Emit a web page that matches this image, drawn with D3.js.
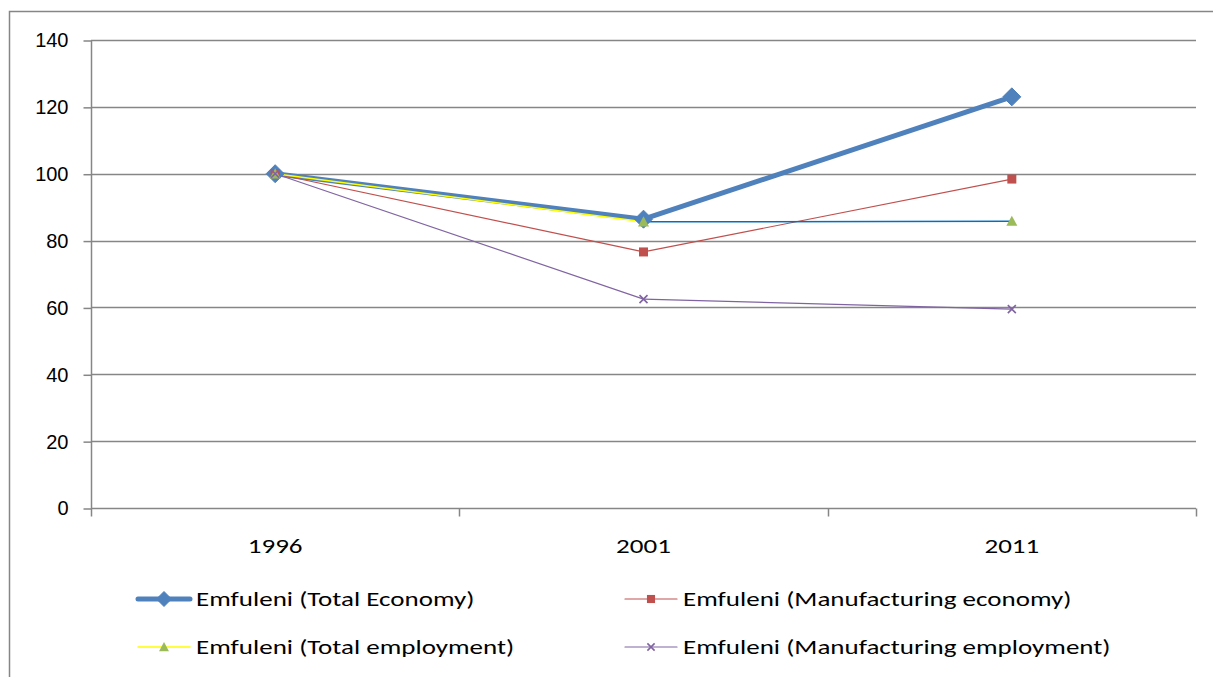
<!DOCTYPE html>
<html>
<head>
<meta charset="utf-8">
<script src="https://cdn.jsdelivr.net/npm/d3@7"></script>
<style>
  html, body { margin: 0; padding: 0; background: #fff; }
  svg { display: block; font-family: Calibri, Carlito, "Liberation Sans", Arial, sans-serif; }
</style>
</head>
<body>
<svg id="chart" width="1213" height="677"></svg>
<script>
// Index values (1996 = 100)
const years = ["1996", "2001", "2011"];
const totalEconomy = [100, 86.4, 123];
const manufacturingEconomy = [100, 76.6, 98.4];
const totalEmployment = [100, 85.6, 85.8];
const manufacturingEmployment = [100, 62.5, 59.5];
const yTicks = [0, 20, 40, 60, 80, 100, 120, 140];

const series = [
  { name: "Emfuleni (Total Economy)", values: totalEconomy },
  { name: "Emfuleni (Manufacturing economy)", values: manufacturingEconomy },
  { name: "Emfuleni (Total employment)", values: totalEmployment },
  { name: "Emfuleni (Manufacturing employment)", values: manufacturingEmployment }
];

// Drawing styles, per series (segment colours let one segment differ)
const styles = [
  { segColors: ["#4F81BD", "#4F81BD"], width: 5, marker: "diamond", mColor: "#4F81BD", mSize: 18 },
  { segColors: ["#C0504D", "#C0504D"], width: 1.2, marker: "square", mColor: "#C0504D", mSize: 9 },
  { segColors: ["#FFFF00", "#0070C0"], width: 1.5, marker: "triangle", mColor: "#9BBB59", mSize: 11 },
  { segColors: ["#8064A2", "#8064A2"], width: 1.2, marker: "x", mColor: "#8064A2", mSize: 8 }
];

const svg = d3.select("#chart");
const W = 1213, H = 677;
const STRETCH = 1.35; // horizontal stretch of category and legend text

// Widen a text element horizontally while keeping it real text
function stretch(sel) {
  sel.each(function () {
    const len = this.getComputedTextLength();
    d3.select(this).attr("textLength", len * STRETCH).attr("lengthAdjust", "spacingAndGlyphs");
  });
}

// Outer frame
svg.append("rect").attr("x", 9.5).attr("y", 11.5).attr("width", W).attr("height", H)
  .attr("fill", "none").attr("stroke", "#868686").attr("stroke-width", 1.5);

const plot = { left: 91, right: 1196, top: 40, bottom: 508 };

const x = d3.scaleBand().domain(years).range([plot.left, plot.right]).paddingInner(0).paddingOuter(0);
const y = d3.scaleLinear().domain([0, 140]).range([plot.bottom, plot.top]);
const cx = d => x(d) + x.bandwidth() / 2;

// Horizontal gridlines
svg.append("g").selectAll("line").data(yTicks.filter(t => t > 0)).join("line")
  .attr("x1", plot.left).attr("x2", plot.right)
  .attr("y1", d => Math.round(y(d)) + 0.5).attr("y2", d => Math.round(y(d)) + 0.5)
  .attr("stroke", "#868686").attr("stroke-width", 1.5);

// Y axis
const yAxis = d3.axisLeft(y).tickValues(yTicks).tickSize(8).tickPadding(15);
const gy = svg.append("g").attr("transform", `translate(${plot.left + 0.5},0.5)`).call(yAxis);
gy.select(".domain").attr("stroke", "#868686").attr("stroke-width", 1.5).attr("d", `M0,${plot.top}V${plot.bottom}`);
gy.selectAll(".tick line").attr("stroke", "#868686").attr("stroke-width", 1.5);
gy.selectAll(".tick text").attr("font-size", 20).attr("fill", "#000").style("font-family", "inherit");

// X axis with ticks between categories
const gx = svg.append("g").attr("transform", `translate(0,${Math.round(plot.bottom) + 0.5})`);
gx.append("line").attr("x1", plot.left).attr("x2", plot.right).attr("stroke", "#868686").attr("stroke-width", 1.5);
const xBounds = years.map(d => x(d)).concat([x(years[years.length - 1]) + x.bandwidth()]);
gx.selectAll("line.tk").data(xBounds).join("line").attr("class", "tk")
  .attr("x1", d => Math.round(d) + 0.5).attr("x2", d => Math.round(d) + 0.5).attr("y1", 0).attr("y2", 8)
  .attr("stroke", "#868686").attr("stroke-width", 1.5);
gx.selectAll("text").data(years).join("text")
  .attr("x", d => cx(d)).attr("y", 44).attr("text-anchor", "middle")
  .attr("font-size", 20).attr("fill", "#000").text(d => d)
  .call(stretch);

// Marker shapes
function drawMarker(g, type, px, py, color, size) {
  const s = size / 2;
  if (type === "diamond") {
    g.append("path").attr("d", `M${px},${py - s}L${px + s},${py}L${px},${py + s}L${px - s},${py}Z`)
      .attr("fill", color).attr("stroke", color).attr("stroke-width", 1);
  } else if (type === "square") {
    g.append("rect").attr("x", px - s).attr("y", py - s).attr("width", size).attr("height", size).attr("fill", color);
  } else if (type === "triangle") {
    g.append("path").attr("d", `M${px},${py - s}L${px + s},${py + s * 0.85}L${px - s},${py + s * 0.85}Z`).attr("fill", color);
  } else if (type === "x") {
    g.append("path").attr("d", `M${px - s},${py - s}L${px + s},${py + s}M${px - s},${py + s}L${px + s},${py - s}`)
      .attr("stroke", color).attr("stroke-width", 1.6).attr("fill", "none");
  }
}

// Series lines, then markers on top
const linesG = svg.append("g");
series.forEach((s, i) => {
  const st = styles[i];
  const g = linesG.append("g");
  for (let k = 0; k < s.values.length - 1; k++) {
    g.append("path")
      .attr("d", d3.line()([[cx(years[k]), y(s.values[k])], [cx(years[k + 1]), y(s.values[k + 1])]]))
      .attr("stroke", st.segColors[k]).attr("stroke-width", st.width).attr("fill", "none")
      .attr("stroke-linecap", "round");
  }
});
series.forEach((s, i) => {
  const st = styles[i];
  const g = linesG.append("g");
  s.values.forEach((v, k) => drawMarker(g, st.marker, cx(years[k]), y(v), st.mColor, st.mSize));
});

// Legend
const legendItems = [
  { i: 0, x: 138, y: 599 },
  { i: 1, x: 625, y: 599 },
  { i: 2, x: 138, y: 647 },
  { i: 3, x: 625, y: 647 }
];
const lg = svg.append("g");
legendItems.forEach(it => {
  const st = styles[it.i];
  const g = lg.append("g");
  g.append("line").attr("x1", it.x).attr("x2", it.x + 52).attr("y1", it.y).attr("y2", it.y)
    .attr("stroke", st.segColors[0]).attr("stroke-width", st.width).attr("stroke-linecap", "round");
  drawMarker(g, st.marker, it.x + 26, it.y, st.mColor, st.marker === "diamond" ? 15 : st.mSize * 0.9);
  g.append("text").attr("x", it.x + 58).attr("y", it.y + 7).attr("font-size", 20).attr("fill", "#000")
    .text(series[it.i].name)
    .call(stretch);
});
</script>
</body>
</html>
